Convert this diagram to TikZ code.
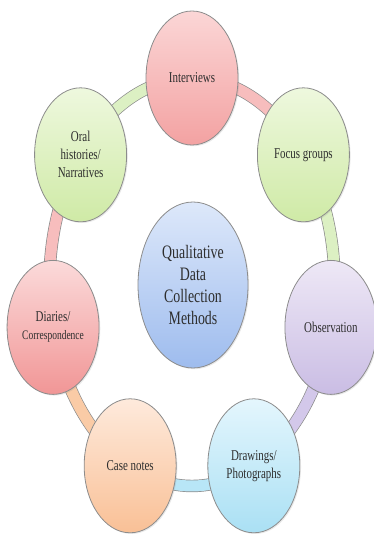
\documentclass[tikz,border=0pt]{standalone}
\usepackage{fontspec}
\usetikzlibrary{shapes.geometric,shadows}
\newfontfamily\labelfont[FakeStretch=0.73]{Liberation Serif}

% fills of the method ellipses (top / bottom of the gradient)
\definecolor{redT}{HTML}{FBD6D6}\definecolor{redB}{HTML}{F3A2A2}
\definecolor{grnT}{HTML}{EEF8DE}\definecolor{grnB}{HTML}{CFEAA6}
\definecolor{purT}{HTML}{EEE8F6}\definecolor{purB}{HTML}{CABDE4}
\definecolor{cyaT}{HTML}{E4F6FD}\definecolor{cyaB}{HTML}{AAE0F4}
\definecolor{orgT}{HTML}{FEEADC}\definecolor{orgB}{HTML}{F9C096}
\definecolor{diaT}{HTML}{FBDADA}\definecolor{diaB}{HTML}{F19696}
\definecolor{bluT}{HTML}{DDE8FA}\definecolor{bluB}{HTML}{9EBCEE}
% ring segment colours
\definecolor{bandRed}{HTML}{F7BDBD}
\definecolor{bandGrn}{HTML}{DCF0C3}
\definecolor{bandPur}{HTML}{D3C8EA}
\definecolor{bandCya}{HTML}{B8E6F7}
\definecolor{bandOrg}{HTML}{FACBA6}
\definecolor{edge}{HTML}{8C8C8C}
\definecolor{ink}{HTML}{2E2E2E}

\tikzset{
  method/.style={ellipse, draw=edge, line width=0.8pt, inner sep=0pt,
    minimum width=92pt, minimum height=134pt, align=center, text=ink,
    font=\labelfont\fontsize{15}{18}\selectfont,
    drop shadow={opacity=0.18, shadow xshift=1.2pt, shadow yshift=-1.2pt}},
  hub/.style={method, minimum width=110pt, minimum height=166pt,
    font=\labelfont\fontsize{19}{22}\selectfont},
  band/.style={draw=edge, line width=0.7pt, double=#1, double distance=11pt},
  ringarc/.style={x radius=142.5, y radius=204}
}

\begin{document}
\begin{tikzpicture}[x=1pt,y=1pt]
  \useasboundingbox (0,0) rectangle (374,538);
  \begin{scope}[shift={(192,256)}]
    % the seven methods, evenly spaced on an elliptical ring
    \coordinate (pInt) at (90:142.5 and 204);
    \coordinate (pFoc) at (38.5714:142.5 and 204);
    \coordinate (pObs) at (-12.8571:142.5 and 204);
    \coordinate (pDra) at (-64.2857:142.5 and 204);
    \coordinate (pCas) at (-115.7143:142.5 and 204);
    \coordinate (pDia) at (-167.1429:142.5 and 204);
    \coordinate (pOra) at (141.4286:142.5 and 204);

    % ring segments between neighbouring methods
    \draw[band=bandRed] (pInt) arc[ringarc, start angle=90, end angle=38.5714];
    \draw[band=bandGrn] (pFoc) arc[ringarc, start angle=38.5714, end angle=-12.8571];
    \draw[band=bandPur] (pObs) arc[ringarc, start angle=-12.8571, end angle=-64.2857];
    \draw[band=bandCya] (pDra) arc[ringarc, start angle=-64.2857, end angle=-115.7143];
    \draw[band=bandOrg] (pCas) arc[ringarc, start angle=-115.7143, end angle=-167.1429];
    \draw[band=bandRed] (pDia) arc[ringarc, start angle=-167.1429, end angle=-218.5714];
    \draw[band=bandGrn] (pOra) arc[ringarc, start angle=141.4286, end angle=90];

    \node[method, top color=redT, bottom color=redB] (int) at (pInt) {Interviews};
    \node[method, top color=grnT, bottom color=grnB] (foc) at (pFoc) {Focus groups};
    \node[method, top color=purT, bottom color=purB] (obs) at (pObs) {Observation};
    \node[method, top color=cyaT, bottom color=cyaB] (dra) at (pDra) {Drawings/\\Photographs};
    \node[method, top color=orgT, bottom color=orgB] (cas) at (pCas) {Case notes};
    \node[method, top color=diaT, bottom color=diaB] (dia) at (pDia)
      {Diaries/\\{\fontsize{13}{15}\selectfont Correspondence}};
    \node[method, top color=grnT, bottom color=grnB] (ora) at (pOra) {Oral\\histories/\\Narratives};
  \end{scope}

  \node[hub, top color=bluT, bottom color=bluB] (hub) at (193,253)
    {Qualitative\\Data\\Collection\\Methods};
\end{tikzpicture}
\end{document}
